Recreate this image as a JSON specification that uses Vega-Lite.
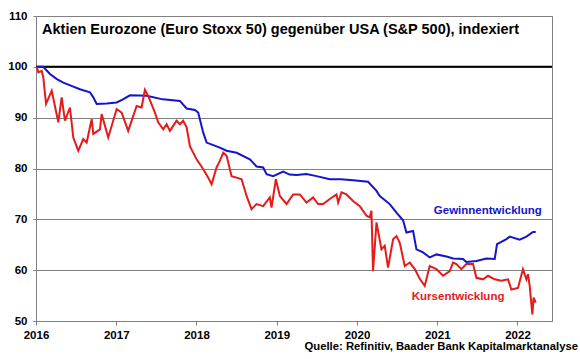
{
  "$schema": "https://vega.github.io/schema/vega-lite/v6.json",
  "width": 516,
  "height": 305,
  "autosize": {"type": "none"},
  "padding": {"left": 36, "top": 16, "right": 28, "bottom": 38},
  "background": "white",
  "config": {
    "font": "Liberation Sans",
    "view": {"stroke": "#808080", "strokeWidth": 1}
  },
  "title": {
    "text": "Quelle: Refinitiv, Baader Bank Kapitalmarktanalyse",
    "orient": "bottom",
    "anchor": "end",
    "dx": 25,
    "offset": 0,
    "fontSize": 11.3,
    "fontWeight": "bold",
    "color": "#000000",
    "font": "Liberation Sans"
  },
  "datasets": {
    "lines": [
      {"year": 2016.01, "value": 100, "series": "Gewinnentwicklung"},
      {"year": 2016.09, "value": 100, "series": "Gewinnentwicklung"},
      {"year": 2016.174, "value": 98.6, "series": "Gewinnentwicklung"},
      {"year": 2016.26, "value": 97.6, "series": "Gewinnentwicklung"},
      {"year": 2016.34, "value": 96.9, "series": "Gewinnentwicklung"},
      {"year": 2016.45, "value": 96.2, "series": "Gewinnentwicklung"},
      {"year": 2016.548, "value": 95.6, "series": "Gewinnentwicklung"},
      {"year": 2016.672, "value": 95.0, "series": "Gewinnentwicklung"},
      {"year": 2016.714, "value": 94.0, "series": "Gewinnentwicklung"},
      {"year": 2016.756, "value": 92.7, "series": "Gewinnentwicklung"},
      {"year": 2016.88, "value": 92.8, "series": "Gewinnentwicklung"},
      {"year": 2017.005, "value": 93.0, "series": "Gewinnentwicklung"},
      {"year": 2017.083, "value": 93.6, "series": "Gewinnentwicklung"},
      {"year": 2017.171, "value": 94.4, "series": "Gewinnentwicklung"},
      {"year": 2017.379, "value": 94.3, "series": "Gewinnentwicklung"},
      {"year": 2017.58, "value": 93.6, "series": "Gewinnentwicklung"},
      {"year": 2017.793, "value": 93.3, "series": "Gewinnentwicklung"},
      {"year": 2017.877, "value": 91.8, "series": "Gewinnentwicklung"},
      {"year": 2017.98, "value": 91.5, "series": "Gewinnentwicklung"},
      {"year": 2018.021, "value": 91.0, "series": "Gewinnentwicklung"},
      {"year": 2018.083, "value": 87.1, "series": "Gewinnentwicklung"},
      {"year": 2018.126, "value": 85.1, "series": "Gewinnentwicklung"},
      {"year": 2018.291, "value": 84.1, "series": "Gewinnentwicklung"},
      {"year": 2018.375, "value": 83.5, "series": "Gewinnentwicklung"},
      {"year": 2018.5, "value": 83.1, "series": "Gewinnentwicklung"},
      {"year": 2018.665, "value": 81.8, "series": "Gewinnentwicklung"},
      {"year": 2018.748, "value": 80.4, "series": "Gewinnentwicklung"},
      {"year": 2018.831, "value": 80.2, "series": "Gewinnentwicklung"},
      {"year": 2018.873, "value": 78.9, "series": "Gewinnentwicklung"},
      {"year": 2018.955, "value": 78.5, "series": "Gewinnentwicklung"},
      {"year": 2019.08, "value": 79.4, "series": "Gewinnentwicklung"},
      {"year": 2019.16, "value": 78.8, "series": "Gewinnentwicklung"},
      {"year": 2019.247, "value": 78.7, "series": "Gewinnentwicklung"},
      {"year": 2019.37, "value": 78.9, "series": "Gewinnentwicklung"},
      {"year": 2019.496, "value": 78.5, "series": "Gewinnentwicklung"},
      {"year": 2019.661, "value": 77.9, "series": "Gewinnentwicklung"},
      {"year": 2019.8, "value": 77.9, "series": "Gewinnentwicklung"},
      {"year": 2019.951, "value": 77.7, "series": "Gewinnentwicklung"},
      {"year": 2020.138, "value": 77.4, "series": "Gewinnentwicklung"},
      {"year": 2020.243, "value": 75.6, "series": "Gewinnentwicklung"},
      {"year": 2020.284, "value": 74.6, "series": "Gewinnentwicklung"},
      {"year": 2020.408, "value": 73.0, "series": "Gewinnentwicklung"},
      {"year": 2020.492, "value": 71.3, "series": "Gewinnentwicklung"},
      {"year": 2020.574, "value": 69.8, "series": "Gewinnentwicklung"},
      {"year": 2020.616, "value": 67.4, "series": "Gewinnentwicklung"},
      {"year": 2020.699, "value": 67.7, "series": "Gewinnentwicklung"},
      {"year": 2020.741, "value": 64.1, "series": "Gewinnentwicklung"},
      {"year": 2020.823, "value": 63.5, "series": "Gewinnentwicklung"},
      {"year": 2020.906, "value": 62.5, "series": "Gewinnentwicklung"},
      {"year": 2020.99, "value": 63.1, "series": "Gewinnentwicklung"},
      {"year": 2021.115, "value": 62.7, "series": "Gewinnentwicklung"},
      {"year": 2021.197, "value": 62.3, "series": "Gewinnentwicklung"},
      {"year": 2021.321, "value": 62.2, "series": "Gewinnentwicklung"},
      {"year": 2021.363, "value": 61.6, "series": "Gewinnentwicklung"},
      {"year": 2021.488, "value": 61.8, "series": "Gewinnentwicklung"},
      {"year": 2021.613, "value": 62.3, "series": "Gewinnentwicklung"},
      {"year": 2021.716, "value": 62.2, "series": "Gewinnentwicklung"},
      {"year": 2021.745, "value": 65.1, "series": "Gewinnentwicklung"},
      {"year": 2021.862, "value": 66.1, "series": "Gewinnentwicklung"},
      {"year": 2021.903, "value": 66.6, "series": "Gewinnentwicklung"},
      {"year": 2022.027, "value": 66.0, "series": "Gewinnentwicklung"},
      {"year": 2022.111, "value": 66.6, "series": "Gewinnentwicklung"},
      {"year": 2022.193, "value": 67.5, "series": "Gewinnentwicklung"},
      {"year": 2022.227, "value": 67.5, "series": "Gewinnentwicklung"},

      {"year": 2016.01, "value": 100, "series": "Kursentwicklung"},
      {"year": 2016.029, "value": 98.9, "series": "Kursentwicklung"},
      {"year": 2016.071, "value": 99.2, "series": "Kursentwicklung"},
      {"year": 2016.091, "value": 97.9, "series": "Kursentwicklung"},
      {"year": 2016.125, "value": 92.7, "series": "Kursentwicklung"},
      {"year": 2016.196, "value": 95.3, "series": "Kursentwicklung"},
      {"year": 2016.278, "value": 89.1, "series": "Kursentwicklung"},
      {"year": 2016.32, "value": 94.0, "series": "Kursentwicklung"},
      {"year": 2016.361, "value": 89.4, "series": "Kursentwicklung"},
      {"year": 2016.423, "value": 92.0, "series": "Kursentwicklung"},
      {"year": 2016.465, "value": 86.1, "series": "Kursentwicklung"},
      {"year": 2016.527, "value": 83.5, "series": "Kursentwicklung"},
      {"year": 2016.589, "value": 85.8, "series": "Kursentwicklung"},
      {"year": 2016.631, "value": 85.1, "series": "Kursentwicklung"},
      {"year": 2016.694, "value": 89.7, "series": "Kursentwicklung"},
      {"year": 2016.714, "value": 86.8, "series": "Kursentwicklung"},
      {"year": 2016.797, "value": 87.7, "series": "Kursentwicklung"},
      {"year": 2016.818, "value": 90.7, "series": "Kursentwicklung"},
      {"year": 2016.9, "value": 86.1, "series": "Kursentwicklung"},
      {"year": 2017.005, "value": 91.7, "series": "Kursentwicklung"},
      {"year": 2017.067, "value": 91.0, "series": "Kursentwicklung"},
      {"year": 2017.149, "value": 87.4, "series": "Kursentwicklung"},
      {"year": 2017.254, "value": 92.3, "series": "Kursentwicklung"},
      {"year": 2017.316, "value": 92.0, "series": "Kursentwicklung"},
      {"year": 2017.357, "value": 95.5, "series": "Kursentwicklung"},
      {"year": 2017.398, "value": 94.3, "series": "Kursentwicklung"},
      {"year": 2017.482, "value": 91.0, "series": "Kursentwicklung"},
      {"year": 2017.523, "value": 89.1, "series": "Kursentwicklung"},
      {"year": 2017.585, "value": 87.7, "series": "Kursentwicklung"},
      {"year": 2017.628, "value": 88.7, "series": "Kursentwicklung"},
      {"year": 2017.669, "value": 87.4, "series": "Kursentwicklung"},
      {"year": 2017.752, "value": 89.4, "series": "Kursentwicklung"},
      {"year": 2017.793, "value": 88.7, "series": "Kursentwicklung"},
      {"year": 2017.834, "value": 89.4, "series": "Kursentwicklung"},
      {"year": 2017.877, "value": 88.1, "series": "Kursentwicklung"},
      {"year": 2017.918, "value": 84.4, "series": "Kursentwicklung"},
      {"year": 2018.001, "value": 81.8, "series": "Kursentwicklung"},
      {"year": 2018.083, "value": 79.9, "series": "Kursentwicklung"},
      {"year": 2018.146, "value": 78.2, "series": "Kursentwicklung"},
      {"year": 2018.188, "value": 76.9, "series": "Kursentwicklung"},
      {"year": 2018.25, "value": 80.2, "series": "Kursentwicklung"},
      {"year": 2018.291, "value": 81.5, "series": "Kursentwicklung"},
      {"year": 2018.333, "value": 83.1, "series": "Kursentwicklung"},
      {"year": 2018.375, "value": 82.5, "series": "Kursentwicklung"},
      {"year": 2018.437, "value": 78.5, "series": "Kursentwicklung"},
      {"year": 2018.5, "value": 78.2, "series": "Kursentwicklung"},
      {"year": 2018.562, "value": 77.9, "series": "Kursentwicklung"},
      {"year": 2018.624, "value": 74.6, "series": "Kursentwicklung"},
      {"year": 2018.686, "value": 72.0, "series": "Kursentwicklung"},
      {"year": 2018.748, "value": 73.0, "series": "Kursentwicklung"},
      {"year": 2018.831, "value": 72.6, "series": "Kursentwicklung"},
      {"year": 2018.914, "value": 74.3, "series": "Kursentwicklung"},
      {"year": 2018.935, "value": 72.3, "series": "Kursentwicklung"},
      {"year": 2018.989, "value": 77.9, "series": "Kursentwicklung"},
      {"year": 2019.039, "value": 74.6, "series": "Kursentwicklung"},
      {"year": 2019.122, "value": 73.0, "series": "Kursentwicklung"},
      {"year": 2019.204, "value": 74.9, "series": "Kursentwicklung"},
      {"year": 2019.288, "value": 74.9, "series": "Kursentwicklung"},
      {"year": 2019.371, "value": 73.3, "series": "Kursentwicklung"},
      {"year": 2019.453, "value": 74.3, "series": "Kursentwicklung"},
      {"year": 2019.516, "value": 73.0, "series": "Kursentwicklung"},
      {"year": 2019.578, "value": 73.0, "series": "Kursentwicklung"},
      {"year": 2019.661, "value": 74.0, "series": "Kursentwicklung"},
      {"year": 2019.745, "value": 74.9, "series": "Kursentwicklung"},
      {"year": 2019.765, "value": 73.3, "series": "Kursentwicklung"},
      {"year": 2019.807, "value": 75.3, "series": "Kursentwicklung"},
      {"year": 2019.869, "value": 74.9, "series": "Kursentwicklung"},
      {"year": 2019.951, "value": 73.6, "series": "Kursentwicklung"},
      {"year": 2020.035, "value": 72.6, "series": "Kursentwicklung"},
      {"year": 2020.118, "value": 70.7, "series": "Kursentwicklung"},
      {"year": 2020.159, "value": 70.4, "series": "Kursentwicklung"},
      {"year": 2020.18, "value": 71.7, "series": "Kursentwicklung"},
      {"year": 2020.2, "value": 59.8, "series": "Kursentwicklung"},
      {"year": 2020.243, "value": 69.4, "series": "Kursentwicklung"},
      {"year": 2020.305, "value": 64.1, "series": "Kursentwicklung"},
      {"year": 2020.346, "value": 64.8, "series": "Kursentwicklung"},
      {"year": 2020.387, "value": 60.5, "series": "Kursentwicklung"},
      {"year": 2020.45, "value": 66.1, "series": "Kursentwicklung"},
      {"year": 2020.492, "value": 66.7, "series": "Kursentwicklung"},
      {"year": 2020.533, "value": 65.4, "series": "Kursentwicklung"},
      {"year": 2020.595, "value": 60.8, "series": "Kursentwicklung"},
      {"year": 2020.658, "value": 61.5, "series": "Kursentwicklung"},
      {"year": 2020.72, "value": 60.2, "series": "Kursentwicklung"},
      {"year": 2020.782, "value": 58.3, "series": "Kursentwicklung"},
      {"year": 2020.844, "value": 56.9, "series": "Kursentwicklung"},
      {"year": 2020.906, "value": 60.8, "series": "Kursentwicklung"},
      {"year": 2020.99, "value": 60.2, "series": "Kursentwicklung"},
      {"year": 2021.072, "value": 58.9, "series": "Kursentwicklung"},
      {"year": 2021.156, "value": 59.8, "series": "Kursentwicklung"},
      {"year": 2021.197, "value": 61.5, "series": "Kursentwicklung"},
      {"year": 2021.239, "value": 61.2, "series": "Kursentwicklung"},
      {"year": 2021.301, "value": 60.2, "series": "Kursentwicklung"},
      {"year": 2021.363, "value": 61.2, "series": "Kursentwicklung"},
      {"year": 2021.446, "value": 61.2, "series": "Kursentwicklung"},
      {"year": 2021.488, "value": 58.5, "series": "Kursentwicklung"},
      {"year": 2021.571, "value": 58.2, "series": "Kursentwicklung"},
      {"year": 2021.633, "value": 58.9, "series": "Kursentwicklung"},
      {"year": 2021.716, "value": 58.2, "series": "Kursentwicklung"},
      {"year": 2021.799, "value": 57.9, "series": "Kursentwicklung"},
      {"year": 2021.882, "value": 58.2, "series": "Kursentwicklung"},
      {"year": 2021.924, "value": 56.2, "series": "Kursentwicklung"},
      {"year": 2022.006, "value": 56.5, "series": "Kursentwicklung"},
      {"year": 2022.068, "value": 60.2, "series": "Kursentwicklung"},
      {"year": 2022.111, "value": 58.2, "series": "Kursentwicklung"},
      {"year": 2022.131, "value": 59.2, "series": "Kursentwicklung"},
      {"year": 2022.152, "value": 56.9, "series": "Kursentwicklung"},
      {"year": 2022.185, "value": 51.3, "series": "Kursentwicklung"},
      {"year": 2022.201, "value": 54.6, "series": "Kursentwicklung"},
      {"year": 2022.227, "value": 53.6, "series": "Kursentwicklung"}
    ],
    "labels": [
      {"year": 2021.63, "value": 71.6, "label": "Gewinnentwicklung", "series": "Gewinnentwicklung"},
      {"year": 2021.26, "value": 54.7, "label": "Kursentwicklung", "series": "Kursentwicklung"}
    ],
    "heading": [
      {"year": 2016.075, "value": 107.2, "label": "Aktien Eurozone (Euro Stoxx 50) gegenüber USA (S&P 500), indexiert"}
    ],
    "ref": [{"value": 100}]
  },
  "layer": [
    {
      "data": {"name": "ref"},
      "mark": {"type": "rule", "color": "#000000", "strokeWidth": 2},
      "encoding": {
        "y": {"field": "value", "type": "quantitative", "scale": {"domain": [50, 110]}}
      }
    },
    {
      "data": {"name": "lines"},
      "mark": {"type": "line", "strokeWidth": 2, "interpolate": "linear"},
      "encoding": {
        "x": {
          "field": "year", "type": "quantitative",
          "scale": {"domain": [2016, 2022.43], "nice": false, "zero": false},
          "axis": {
            "title": null, "values": [2016, 2017, 2018, 2019, 2020, 2021, 2022],
            "format": "d", "grid": false, "domainColor": "#808080", "tickColor": "#808080",
            "tickSize": 4, "labelFont": "Liberation Sans", "labelFontSize": 11.5,
            "labelFontWeight": "bold", "labelColor": "#000000", "labelPadding": 4,
            "labelFlush": false
          }
        },
        "y": {
          "field": "value", "type": "quantitative",
          "scale": {"domain": [50, 110], "nice": false, "zero": false},
          "axis": {
            "title": null, "values": [50, 60, 70, 80, 90, 100, 110],
            "grid": true, "gridColor": "#808080", "gridWidth": 1,
            "domainColor": "#808080", "tickColor": "#808080", "tickSize": 3,
            "labelFont": "Liberation Sans", "labelFontSize": 11.5, "labelFontWeight": "bold",
            "labelColor": "#000000", "labelPadding": 6
          }
        },
        "color": {
          "field": "series", "type": "nominal",
          "scale": {"domain": ["Gewinnentwicklung", "Kursentwicklung"], "range": ["#1414cc", "#e51a1a"]},
          "legend": null
        }
      }
    },
    {
      "data": {"name": "labels"},
      "mark": {"type": "text", "font": "Liberation Sans", "fontSize": 11.5, "fontWeight": "bold", "align": "center", "baseline": "middle"},
      "encoding": {
        "x": {"field": "year", "type": "quantitative"},
        "y": {"field": "value", "type": "quantitative"},
        "text": {"field": "label"},
        "color": {"field": "series", "type": "nominal", "legend": null}
      }
    },
    {
      "data": {"name": "heading"},
      "mark": {"type": "text", "font": "Liberation Sans", "fontSize": 14.5, "fontWeight": "bold", "align": "left", "baseline": "middle", "color": "#000000"},
      "encoding": {
        "x": {"field": "year", "type": "quantitative"},
        "y": {"field": "value", "type": "quantitative"},
        "text": {"field": "label"}
      }
    }
  ]
}
